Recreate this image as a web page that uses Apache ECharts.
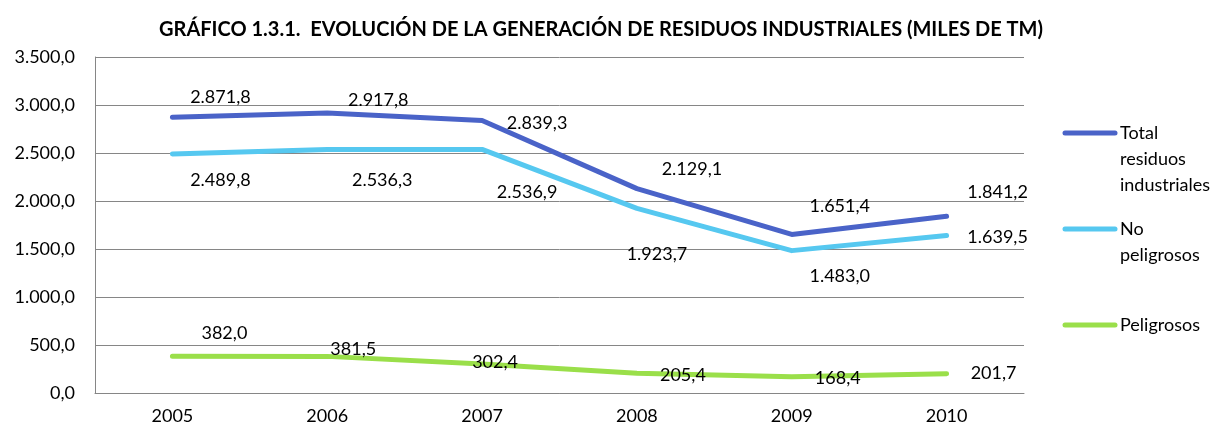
<!DOCTYPE html>
<html>
<head>
<meta charset="utf-8">
<title>Residuos industriales</title>
<script src="https://cdn.jsdelivr.net/npm/echarts@6/dist/echarts.min.js"></script>
<style>
  html, body { margin: 0; padding: 0; background: #fff; }
  #chart { width: 1224px; height: 428px; }
</style>
</head>
<body>
<div id="chart"></div>
<script>
// datos (miles de TM)
const years = ['2005', '2006', '2007', '2008', '2009', '2010'];
const total = [2871.8, 2917.8, 2839.3, 2129.1, 1651.4, 1841.2];
const noPeligrosos = [2489.8, 2536.3, 2536.9, 1923.7, 1483.0, 1639.5];
const peligrosos = [382.0, 381.5, 302.4, 205.4, 168.4, 201.7];
const yTicks = [0, 500, 1000, 1500, 2000, 2500, 3000, 3500];

// desplazamiento de cada etiqueta respecto a su punto (px)
const offTotal = [[48, -20], [51, -13], [55, 3], [55, -19], [48, -28], [51, -24]];
const offNo = [[48, 26], [55, 31], [45, 43], [20, 46], [48, 26], [51, 2]];
const offPel = [[52, -23], [26, -7], [13, -2], [46, 2], [46, 1], [47, 0]];

const FONT = 'Lato';
const COLORS = ['#4A63C8', '#56C8F0', '#9ADF4A'];

// formato español: 2.871,8
const fmt = (v) => {
  const [i, d] = v.toFixed(1).split('.');
  return i.replace(/\B(?=(\d{3})+(?!\d))/g, '.') + ',' + d;
};

const withLabels = (values, offsets) =>
  values.map((v, i) => ({ value: v, label: { offset: offsets[i] } }));

const lineSeries = (name, values, offsets, color) => ({
  name,
  type: 'line',
  data: withLabels(values, offsets),
  symbol: 'circle',
  symbolSize: 1,
  showSymbol: true,
  lineStyle: { color, width: 5, cap: 'round', join: 'round' },
  itemStyle: { color },
  label: {
    show: true,
    position: 'inside',
    align: 'center',
    verticalAlign: 'middle',
    color: '#000',
    fontFamily: FONT,
    fontSize: 18,
    formatter: (p) => fmt(p.value)
  },
  emphasis: { disabled: true },
  animation: false
});

// leyenda a la derecha: línea + texto que empieza a la altura de la línea
const legendRows = [
  { text: 'Total\nresiduos\nindustriales', y: 133 },
  { text: 'No\npeligrosos', y: 229 },
  { text: 'Peligrosos', y: 325 }
];
const legendGraphics = [];
legendRows.forEach((r, i) => {
  legendGraphics.push({
    type: 'line',
    shape: { x1: 1065, y1: r.y, x2: 1115, y2: r.y },
    style: { stroke: COLORS[i], lineWidth: 5, lineCap: 'round' },
    silent: true
  });
  legendGraphics.push({
    type: 'text',
    x: 1120,
    y: r.y - 13,
    style: {
      text: r.text,
      fontFamily: FONT,
      fontSize: 18,
      lineHeight: 26,
      fill: '#000',
      verticalAlign: 'top'
    },
    silent: true
  });
});

const chart = echarts.init(document.getElementById('chart'));
chart.setOption({
  backgroundColor: '#fff',
  animation: false,
  title: {
    text: 'GRÁFICO 1.3.1.  EVOLUCIÓN DE LA GENERACIÓN DE RESIDUOS INDUSTRIALES (MILES DE TM)',
    left: 596,
    top: 15,
    textAlign: 'center',
    textStyle: { fontFamily: FONT, fontSize: 20, fontWeight: 'bold', color: '#000' }
  },
  legend: { show: false },
  graphic: legendGraphics,
  grid: { left: 95, right: 200, top: 57, height: 336 },
  xAxis: {
    type: 'category',
    data: years,
    boundaryGap: true,
    axisLine: { lineStyle: { color: '#868686', width: 1 } },
    axisTick: { show: false },
    axisLabel: { fontFamily: FONT, fontSize: 18, color: '#000', margin: 14 }
  },
  yAxis: {
    type: 'value',
    min: yTicks[0],
    max: yTicks[yTicks.length - 1],
    interval: yTicks[1] - yTicks[0],
    axisLine: { show: true, lineStyle: { color: '#868686', width: 1 } },
    axisTick: { show: false },
    splitLine: { lineStyle: { color: '#868686', width: 1 } },
    axisLabel: {
      fontFamily: FONT,
      fontSize: 18,
      color: '#000',
      margin: 20,
      formatter: (v) => fmt(v)
    }
  },
  series: [
    lineSeries('Total residuos industriales', total, offTotal, COLORS[0]),
    lineSeries('No peligrosos', noPeligrosos, offNo, COLORS[1]),
    lineSeries('Peligrosos', peligrosos, offPel, COLORS[2])
  ]
});
</script>
</body>
</html>
